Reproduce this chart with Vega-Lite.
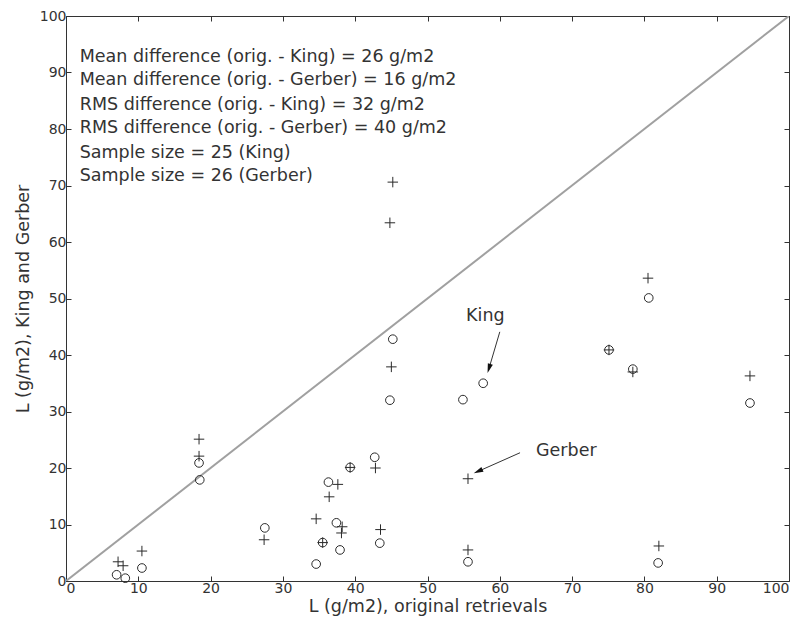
{
  "$schema": "https://vega.github.io/schema/vega-lite/v6.json",
  "width": 723,
  "height": 565,
  "autosize": "none",
  "padding": {"left": 66, "top": 16, "right": 7, "bottom": 48},
  "background": "white",
  "config": {
    "view": {"stroke": "#333333", "strokeWidth": 1},
    "font": "DejaVu Sans",
    "axis": {"grid": false, "domain": false, "tickColor": "#333333", "labelColor": "#333333", "titleColor": "#333333", "labelFont": "DejaVu Sans", "titleFont": "DejaVu Sans", "labelFontSize": 14, "titleFontSize": 17.5, "titleFontWeight": "normal", "tickSize": -5, "labelPadding": 5}
  },
  "datasets": {
    "diag": [{"orig": 0, "other": 0}, {"orig": 100, "other": 100}],
    "king": [
      {"orig": 7.0, "other": 1.1}, {"orig": 8.2, "other": 0.5}, {"orig": 10.5, "other": 2.3},
      {"orig": 18.4, "other": 20.9}, {"orig": 18.5, "other": 17.9}, {"orig": 27.5, "other": 9.4},
      {"orig": 34.6, "other": 3.0}, {"orig": 36.3, "other": 17.5}, {"orig": 35.5, "other": 6.8},
      {"orig": 37.4, "other": 10.3}, {"orig": 37.9, "other": 5.5}, {"orig": 39.3, "other": 20.1},
      {"orig": 42.7, "other": 21.9}, {"orig": 43.4, "other": 6.7}, {"orig": 44.8, "other": 32.0},
      {"orig": 45.2, "other": 42.8}, {"orig": 54.9, "other": 32.1}, {"orig": 57.7, "other": 35.0},
      {"orig": 55.6, "other": 3.4}, {"orig": 75.1, "other": 40.9}, {"orig": 78.4, "other": 37.5},
      {"orig": 80.6, "other": 50.1}, {"orig": 81.9, "other": 3.2}, {"orig": 94.6, "other": 31.5}
    ],
    "gerber": [
      {"orig": 7.2, "other": 3.4}, {"orig": 7.9, "other": 2.7}, {"orig": 10.5, "other": 5.3},
      {"orig": 18.4, "other": 25.1}, {"orig": 18.4, "other": 22.1}, {"orig": 27.4, "other": 7.3},
      {"orig": 34.6, "other": 11.0}, {"orig": 37.6, "other": 17.1}, {"orig": 36.4, "other": 14.9},
      {"orig": 35.5, "other": 6.8}, {"orig": 38.2, "other": 9.6}, {"orig": 38.1, "other": 8.5},
      {"orig": 39.3, "other": 20.1}, {"orig": 42.8, "other": 20.0}, {"orig": 43.5, "other": 9.1},
      {"orig": 45.2, "other": 70.6}, {"orig": 44.8, "other": 63.4}, {"orig": 45.0, "other": 37.9},
      {"orig": 55.6, "other": 18.1}, {"orig": 55.6, "other": 5.5}, {"orig": 75.1, "other": 40.9},
      {"orig": 78.4, "other": 37.0}, {"orig": 80.5, "other": 53.6}, {"orig": 94.6, "other": 36.3},
      {"orig": 82.0, "other": 6.2}
    ],
    "notes": [
      {"orig": 1.9, "other": 92.8, "label": "Mean difference (orig. - King) =  26 g/m2"},
      {"orig": 1.9, "other": 88.6, "label": "Mean difference (orig. - Gerber) = 16 g/m2"},
      {"orig": 1.9, "other": 84.3, "label": "RMS difference (orig. - King) = 32 g/m2"},
      {"orig": 1.9, "other": 80.1, "label": "RMS difference (orig. - Gerber) = 40 g/m2"},
      {"orig": 1.9, "other": 75.8, "label": "Sample size = 25 (King)"},
      {"orig": 1.9, "other": 71.6, "label": "Sample size = 26 (Gerber)"}
    ],
    "labels": [
      {"orig": 58.0, "other": 46.9, "label": "King"},
      {"orig": 69.2, "other": 23.0, "label": "Gerber"}
    ],
    "kingArrow": [{"orig": 60.0, "other": 44.1, "orig2": 58.5, "other2": 37.6}],
    "gerberArrow": [{"orig": 62.8, "other": 22.7, "orig2": 57.0, "other2": 19.4}]
  },
  "resolve": {"axis": {"x": "independent", "y": "independent"}},
  "layer": [
    {
      "data": {"name": "diag"},
      "mark": {"type": "line", "color": "#a0a0a0", "strokeWidth": 2, "clip": true},
      "encoding": {
        "x": {"field": "orig", "type": "quantitative", "scale": {"domain": [0, 100], "nice": false}, "axis": {"orient": "top", "labels": false, "title": null, "values": [0,10,20,30,40,50,60,70,80,90,100]}},
        "y": {"field": "other", "type": "quantitative", "scale": {"domain": [0, 100], "nice": false}, "axis": {"orient": "right", "labels": false, "title": null, "values": [0,10,20,30,40,50,60,70,80,90,100]}}
      }
    },
    {
      "data": {"name": "king"},
      "mark": {"type": "point", "shape": "circle", "filled": false, "size": 75, "stroke": "#2a2a2a", "strokeWidth": 1, "opacity": 1},
      "encoding": {
        "x": {"field": "orig", "type": "quantitative", "axis": {"orient": "bottom", "title": "L (g/m2), original retrievals", "values": [0,10,20,30,40,50,60,70,80,90,100], "titlePadding": 2}},
        "y": {"field": "other", "type": "quantitative", "axis": {"orient": "left", "title": "L (g/m2), King and Gerber", "values": [0,10,20,30,40,50,60,70,80,90,100], "titlePadding": 7}}
      }
    },
    {
      "data": {"name": "gerber"},
      "mark": {"type": "point", "shape": "M-1,0L1,0M0,-1L0,1", "filled": false, "size": 110, "stroke": "#2a2a2a", "strokeWidth": 1, "opacity": 1},
      "encoding": {
        "x": {"field": "orig", "type": "quantitative", "axis": null},
        "y": {"field": "other", "type": "quantitative", "axis": null}
      }
    },
    {
      "data": {"name": "notes"},
      "mark": {"type": "text", "align": "left", "baseline": "middle", "font": "DejaVu Sans", "fontSize": 17.5, "color": "#333333"},
      "encoding": {
        "x": {"field": "orig", "type": "quantitative", "axis": null},
        "y": {"field": "other", "type": "quantitative", "axis": null},
        "text": {"field": "label"}
      }
    },
    {
      "data": {"name": "labels"},
      "mark": {"type": "text", "align": "center", "baseline": "middle", "font": "DejaVu Sans", "fontSize": 17.5, "color": "#333333"},
      "encoding": {
        "x": {"field": "orig", "type": "quantitative", "axis": null},
        "y": {"field": "other", "type": "quantitative", "axis": null},
        "text": {"field": "label"}
      }
    },
    {
      "data": {"name": "kingArrow"},
      "mark": {"type": "rule", "color": "#333333", "strokeWidth": 1},
      "encoding": {
        "x": {"field": "orig", "type": "quantitative", "axis": null},
        "y": {"field": "other", "type": "quantitative", "axis": null},
        "x2": {"field": "orig2"},
        "y2": {"field": "other2"}
      }
    },
    {
      "data": {"name": "kingArrow"},
      "mark": {"type": "point", "shape": "M0,-1L0.55,1L-0.55,1Z", "filled": true, "size": 90, "color": "#111111", "opacity": 1, "angle": 197},
      "encoding": {
        "x": {"field": "orig2", "type": "quantitative", "axis": null},
        "y": {"field": "other2", "type": "quantitative", "axis": null}
      }
    },
    {
      "data": {"name": "gerberArrow"},
      "mark": {"type": "rule", "color": "#333333", "strokeWidth": 1},
      "encoding": {
        "x": {"field": "orig", "type": "quantitative", "axis": null},
        "y": {"field": "other", "type": "quantitative", "axis": null},
        "x2": {"field": "orig2"},
        "y2": {"field": "other2"}
      }
    },
    {
      "data": {"name": "gerberArrow"},
      "mark": {"type": "point", "shape": "M0,-1L0.55,1L-0.55,1Z", "filled": true, "size": 90, "color": "#111111", "opacity": 1, "angle": 246},
      "encoding": {
        "x": {"field": "orig2", "type": "quantitative", "axis": null},
        "y": {"field": "other2", "type": "quantitative", "axis": null}
      }
    }
  ]
}
